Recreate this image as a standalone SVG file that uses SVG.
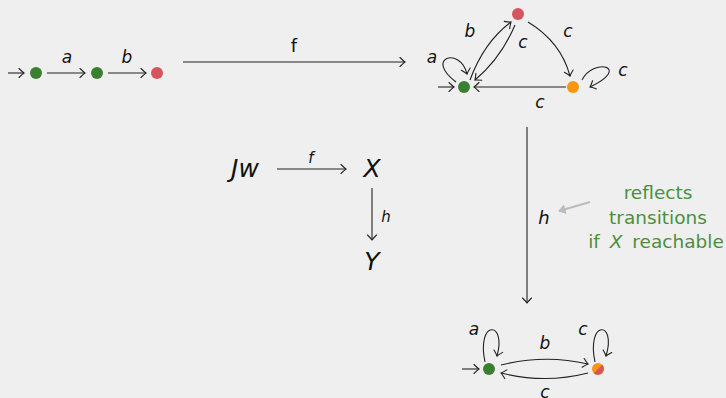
<svg xmlns="http://www.w3.org/2000/svg" width="726" height="398" viewBox="0 0 726 398">
<defs>
<marker id="to" markerUnits="userSpaceOnUse" markerWidth="12" markerHeight="12" viewBox="-6 -6 12 12" refX="0" refY="0" orient="auto" overflow="visible">
<path d="M -5 -4.5 Q -1.5 -1 0 0 Q -1.5 1 -5 4.5" fill="none" stroke="#222" stroke-width="1.1" stroke-linecap="round"/>
</marker>
<marker id="tog" markerUnits="userSpaceOnUse" markerWidth="12" markerHeight="12" viewBox="-6 -6 12 12" refX="0" refY="0" orient="auto" overflow="visible">
<path d="M -6 -4 L 0 0 L -6 4 Z" fill="#bbb" stroke="#bbb" stroke-width="1" stroke-linejoin="round"/>
</marker>
</defs>
<style>
.e{fill:none;stroke:#222;stroke-width:1.1;marker-end:url(#to)}
.t{font-family:"DejaVu Sans",sans-serif;fill:#111;text-anchor:middle}
.i{font-style:italic;font-size:17px}
.big{font-style:italic;font-size:25px}
.g{fill:#3b7f33}
.r{fill:#d4555e}
.o{fill:#f5980f}
.note{font-family:"DejaVu Sans",sans-serif;font-size:18.5px;fill:#4b8f3c;text-anchor:middle}
</style>
<rect width="726" height="398" fill="#efefef"/>

<g id="connectors">
<!-- top-left chain -->
<line class="e" x1="8" y1="73" x2="24" y2="73"/>
<line class="e" x1="47" y1="73" x2="85" y2="73"/>
<line class="e" x1="108" y1="73" x2="146" y2="73"/>
<!-- big f -->
<line class="e" x1="183" y1="62" x2="405" y2="62"/>
<!-- top-right graph -->
<line class="e" x1="438" y1="87" x2="454" y2="87"/>
<path class="e" d="M 456 82 C 424 58, 460 46, 467 74"/>
<path class="e" d="M 470 80 Q 484 42 511 22"/>
<path class="e" d="M 515 25 Q 501 58 475 80"/>
<path class="e" d="M 528 22 Q 561 42 570 76"/>
<path class="e" d="M 582 80 C 594 57, 632 67, 590 87"/>
<line class="e" x1="566" y1="87" x2="474" y2="87"/>
<!-- vertical h -->
<line class="e" x1="527" y1="127" x2="527" y2="303"/>
<line x1="590" y1="202" x2="559" y2="211" stroke="#bbb" stroke-width="2" marker-end="url(#tog)"/>
<!-- small commutative diagram -->
<line class="e" x1="277" y1="169" x2="346" y2="169"/>
<line class="e" x1="372" y1="188" x2="372" y2="240"/>
<!-- bottom graph -->
<line class="e" x1="462" y1="369" x2="479" y2="369"/>
<path class="e" d="M 485 362 C 476 320, 507 320, 497 356"/>
<path class="e" d="M 595 362 C 586 320, 617 320, 606 356"/>
<path class="e" d="M 501 365 Q 545 354 588 364"/>
<path class="e" d="M 588 373 Q 545 384 501 373"/>
</g>

<g id="chain-q0"><circle class="g" cx="36" cy="73" r="6"/></g>
<g id="chain-q1"><circle class="g" cx="97" cy="73" r="6"/></g>
<g id="chain-q2"><circle class="r" cx="157" cy="73" r="6"/></g>
<g id="chain-labels">
<text class="t i" x="67" y="63">a</text>
<text class="t i" x="127" y="63">b</text>
</g>
<g id="f-label"><text class="t" x="294" y="52" font-size="18">f</text></g>

<g id="x-green"><circle class="g" cx="464" cy="87" r="6"/></g>
<g id="x-red"><circle class="r" cx="518" cy="14" r="6"/></g>
<g id="x-orange"><circle class="o" cx="573" cy="87" r="6"/></g>
<g id="x-labels">
<text class="t i" x="432" y="63">a</text>
<text class="t i" x="470" y="37">b</text>
<text class="t i" x="523" y="48">c</text>
<text class="t i" x="568" y="37">c</text>
<text class="t i" x="623" y="76">c</text>
<text class="t i" x="540" y="108">c</text>
</g>

<g id="h-label"><text class="t" x="544" y="224" font-size="18" font-style="italic">h</text></g>
<g id="note">
<text class="note" x="658" y="199">reflects</text>
<text class="note" x="658" y="224">transitions</text>
<text class="note" x="656" y="248">if <tspan font-style="italic" dx="4">X</tspan><tspan dx="4"> reachable</tspan></text>
</g>

<g id="cd-Jw"><text class="t big" x="245" y="177">Jw</text></g>
<g id="cd-X"><text class="t big" x="372" y="177">X</text></g>
<g id="cd-Y"><text class="t big" x="372" y="270">Y</text></g>
<g id="cd-labels">
<text class="t" x="311" y="163" font-size="15" font-style="italic">f</text>
<text class="t" x="386" y="222" font-size="15" font-style="italic">h</text>
</g>

<g id="y-green"><circle class="g" cx="489" cy="369" r="6"/></g>
<g id="y-split">
<circle class="o" cx="598" cy="369" r="6"/>
<path class="r" d="M 602.24 364.76 A 6 6 0 0 1 593.76 373.24 Z"/>
</g>
<g id="y-labels">
<text class="t i" x="474" y="335">a</text>
<text class="t i" x="583" y="335">c</text>
<text class="t i" x="545" y="349">b</text>
<text class="t i" x="545" y="398">c</text>
</g>
</svg>
